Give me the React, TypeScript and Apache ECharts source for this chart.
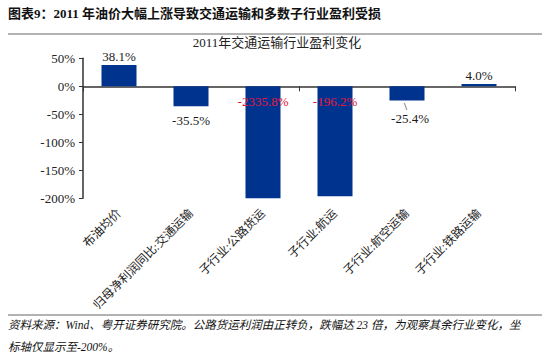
import React, { useEffect, useRef } from "react";
import * as echarts from "echarts";

const categories = [
  "布油均价",
  "归母净利润同比:交通运输",
  "子行业:公路货运",
  "子行业:航运",
  "子行业:航空运输",
  "子行业:铁路运输",
];
const values = [38.1, -35.5, -2335.8, -196.2, -25.4, 4.0];
const redIdx = [2, 3];
const leaderIdx = [4];
const yTicks = { min: -200, max: 50, interval: 50 };

const HEADER = "图表9：2011 年油价大幅上涨导致交通运输和多数子行业盈利受损";
const CHART_TITLE = "2011年交通运输行业盈利变化";
const FOOT1 = "资料来源：Wind、粤开证券研究院。公路货运利润由正转负，跌幅达 23 倍，为观察其余行业变化，坐";
const FOOT2 = "标轴仅显示至-200%。";

const SERIF = '"Liberation Serif", "Noto Sans CJK SC", serif';

export default function App() {
  const ref = useRef<HTMLDivElement>(null);
  useEffect(() => {
    const chart = echarts.init(ref.current!, null, { renderer: "svg" });
    const data = values.map((v, i) => {
      const red = redIdx.includes(i);
      const leader = leaderIdx.includes(i);
      return {
        value: v,
        label: {
          position: red ? "insideTop" : v >= 0 ? "top" : "bottom",
          distance: red ? 9 : v >= 0 ? 2 : leader ? 0 : 8,
          offset: leader ? [3, 0] : [0, 0],
          color: red ? "#e8183c" : "#1a1a1a",
          formatter: leader
            ? (p: any) => "{a|\\}\n{b|" + p.value.toFixed(1) + "%}"
            : (p: any) => p.value.toFixed(1) + "%",
          rich: leader
            ? {
                a: { fontFamily: SERIF, fontSize: 11, lineHeight: 10, color: "#111", padding: [0, 9, 0, 0] },
                b: { fontFamily: SERIF, fontSize: 13, lineHeight: 16, color: "#1a1a1a" },
              }
            : undefined,
        },
      };
    });
    chart.setOption({
      animation: false,
      title: {
        text: CHART_TITLE,
        left: 272,
        textAlign: "center",
        top: 31,
        textStyle: { fontFamily: SERIF, fontSize: 13, fontWeight: "normal", color: "#222" },
      },
      grid: { left: 83, right: 35, top: 58.3, bottom: 160.7, containLabel: false },
      xAxis: [
        {
          type: "category",
          data: categories,
          position: "bottom",
          axisLine: { onZero: true, lineStyle: { color: "#333", width: 1.5 } },
          axisTick: { show: true, length: 5, lineStyle: { color: "#333" } },
          axisLabel: { show: false },
        },
        {
          type: "category",
          data: categories,
          position: "bottom",
          axisLine: { show: false, onZero: false },
          axisTick: { show: false },
          axisLabel: {
            rotate: 45,
            margin: 13,
            fontFamily: SERIF,
            fontSize: 12,
            color: "#222",
            interval: 0,
          },
        },
      ],
      yAxis: {
        type: "value",
        min: yTicks.min,
        max: yTicks.max,
        interval: yTicks.interval,
        axisLine: { show: true, lineStyle: { color: "#333", width: 1.5 } },
        axisTick: { show: true, length: 4, lineStyle: { color: "#333" } },
        splitLine: { show: false },
        axisLabel: {
          formatter: (v: number) => v + "%",
          fontFamily: SERIF,
          fontSize: 13,
          color: "#222",
          margin: 8,
        },
      },
      series: [
        {
          type: "bar",
          data,
          xAxisIndex: 0,
          barWidth: 35,
          clip: true,
          itemStyle: { color: "#00338d" },
          label: {
            show: true,
            fontFamily: SERIF,
            fontSize: 13,
          },
        },
      ],
      graphic: [
        {
          type: "text",
          left: 8,
          top: 7,
          style: {
            text: HEADER,
            font: 'bold 13px "Liberation Serif", "Noto Sans CJK SC", serif',
            fill: "#111",
          },
        },
        {
          type: "line",
          shape: { x1: 8, y1: 34, x2: 542, y2: 34 },
          style: { stroke: "#999", lineWidth: 1.5 },
        },
        {
          type: "line",
          shape: { x1: 8, y1: 315, x2: 542, y2: 315 },
          style: { stroke: "#999", lineWidth: 1.5 },
        },
        {
          type: "text",
          left: 8,
          top: 319,
          style: {
            text: FOOT1,
            font: 'italic 11.5px "Liberation Serif", "Noto Sans CJK SC", serif',
            fill: "#111",
          },
        },
        {
          type: "text",
          left: 8,
          top: 341,
          style: {
            text: FOOT2,
            font: 'italic 11.5px "Liberation Serif", "Noto Sans CJK SC", serif',
            fill: "#111",
          },
        },
      ],
    });
    return () => chart.dispose();
  }, []);
  return <div ref={ref} style={{ width: 550, height: 359, position: "absolute", left: 0, top: 0 }} />;
}
